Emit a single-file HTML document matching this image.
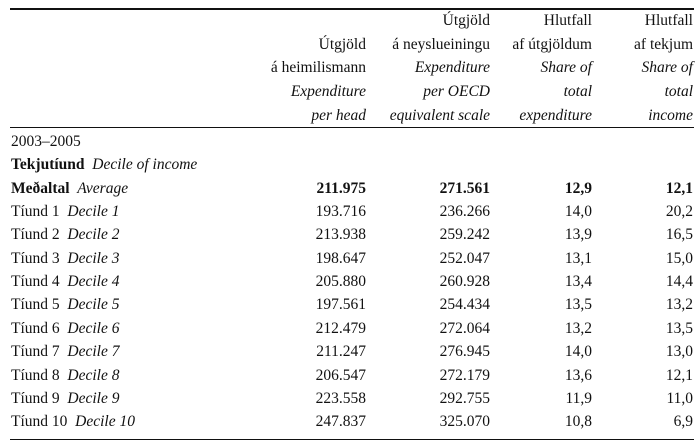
<!DOCTYPE html>
<html><head><meta charset="utf-8"><style>
body{margin:0;background:#fff;width:700px;height:446px;position:relative;overflow:hidden;font-family:"Liberation Serif",serif;font-size:15.5px;color:#111}
.l{position:absolute;height:20px;line-height:20px;white-space:nowrap}
.r{text-align:right}
i{font-style:italic}
.hr{position:absolute;left:10px;width:684px;background:#111}
</style></head><body>
<div class="hr" style="top:8px;height:2px"></div>
<div class="hr" style="top:127px;height:1px"></div>
<div class="hr" style="top:439px;height:1px"></div>
<div id="c"></div>
<script>
var c=document.getElementById('c'),h='';
var R=[366,490,592,693],W=[150,130,100,100];
var head=[["","Útgjöld","Hlutfall","Hlutfall"],["Útgjöld","á neyslueiningu","af útgjöldum","af tekjum"],["á heimilismann","<i>Expenditure</i>","<i>Share of</i>","<i>Share of</i>"],["<i>Expenditure</i>","<i>per OECD</i>","<i>total</i>","<i>total</i>"],["<i>per head</i>","<i>equivalent scale</i>","<i>expenditure</i>","<i>income</i>"]];
head.forEach(function(r,i){var y=11+i*23.7;r.forEach(function(t,j){h+='<div class="l r" style="top:'+y+'px;left:'+(R[j]-W[j])+'px;width:'+W[j]+'px">'+t+'</div>';});});
var rows=[["2003–2005"],["<b>Tekjutíund</b>&nbsp; <i>Decile of income</i>"],["<b>Meðaltal</b>&nbsp; <i>Average</i>","<b>211.975</b>","<b>271.561</b>","<b>12,9</b>","<b>12,1</b>"],
["193.716","236.266","14,0","20,2"],["213.938","259.242","13,9","16,5"],["198.647","252.047","13,1","15,0"],["205.880","260.928","13,4","14,4"],["197.561","254.434","13,5","13,2"],["212.479","272.064","13,2","13,5"],["211.247","276.945","14,0","13,0"],["206.547","272.179","13,6","12,1"],["223.558","292.755","11,9","11,0"],["247.837","325.070","10,8","6,9"]];
rows.forEach(function(r,i){if(i>2){r=["Tíund "+(i-2)+"&nbsp; <i>Decile "+(i-2)+"</i>"].concat(r);}
var y=132+i*23.35;h+='<div class="l" style="top:'+y+'px;left:11px">'+r[0]+'</div>';
for(var j=1;j<r.length;j++)h+='<div class="l r" style="top:'+y+'px;left:'+(R[j-1]-W[j-1])+'px;width:'+W[j-1]+'px">'+r[j]+'</div>';});
c.innerHTML=h;
</script>
</body></html>
